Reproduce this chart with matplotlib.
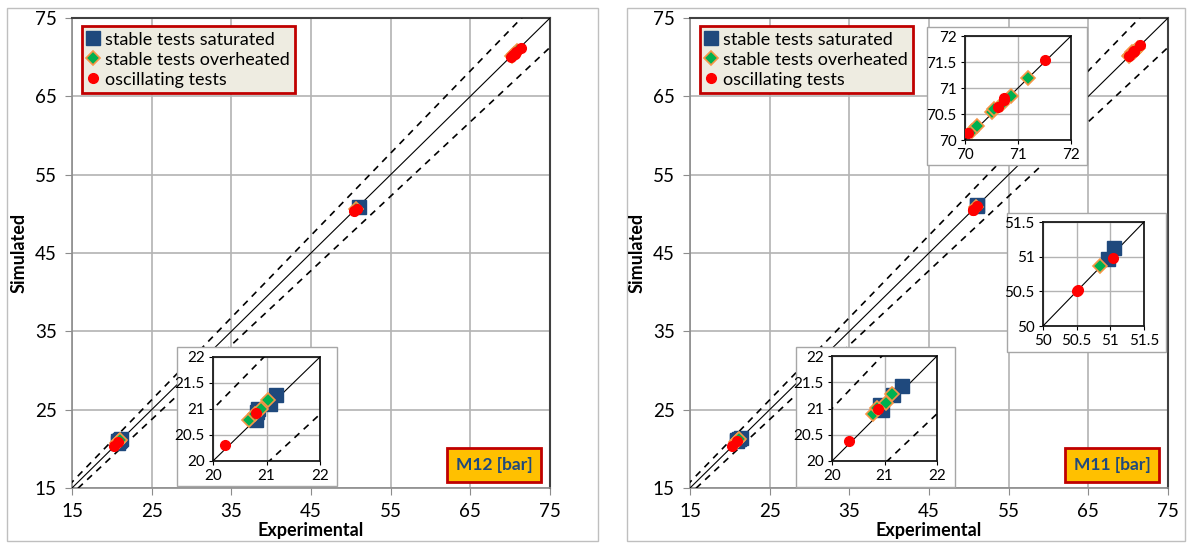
import matplotlib
matplotlib.use("Agg")
import matplotlib.pyplot as plt
from matplotlib.patches import Rectangle
from matplotlib.ticker import MultipleLocator, FormatStrFormatter
import numpy as np

plt.rcParams['font.family'] = ['Lato', 'DejaVu Sans']

W, H = 1187, 547

# ---- data ----
# M12 panel
m12_sat_x = [20.80, 20.83, 20.84, 21.06, 21.18, 50.98]
m12_sat_y = [20.78, 20.94, 21.00, 21.10, 21.26, 50.90]
m12_ovh_x = [20.68, 20.78, 20.89, 21.03, 50.70, 70.20, 70.50, 70.80]
m12_ovh_y = [20.78, 20.91, 21.00, 21.17, 50.60, 70.15, 70.45, 70.75]
m12_osc_x = [20.23, 20.81, 50.40, 50.80, 70.05, 70.30, 70.55, 70.75, 71.30]
m12_osc_y = [20.31, 20.93, 50.30, 50.60, 70.00, 70.25, 70.45, 70.70, 71.20]

# M11 panel
m11_sat_x = [20.91, 20.95, 21.17, 21.34, 50.97, 51.05]
m11_sat_y = [21.07, 20.97, 21.26, 21.42, 50.97, 51.13]
m11_ovh_x = [20.79, 20.86, 21.03, 21.15, 50.85,
             70.13, 70.22, 70.50, 70.54, 70.69, 70.86, 71.19]
m11_ovh_y = [20.89, 21.01, 21.10, 21.28, 50.87,
             70.17, 70.26, 70.54, 70.60, 70.70, 70.85, 71.19]
m11_osc_x = [20.33, 20.88, 50.50, 50.52, 51.04,
             70.05, 70.62, 70.73, 70.74, 71.50]
m11_osc_y = [20.38, 21.00, 50.51, 50.52, 50.98,
             70.13, 70.64, 70.80, 70.77, 71.54]

main_ticks = [15, 25, 35, 45, 55, 65, 75]
band = 0.05   # +/- 5 % lines

C_SAT = '#1F497D'
C_OVH = '#00B050'
C_OVH_E = '#F79646'
C_OSC = '#FF0000'


def fax(x0, y0, x1, y1):
    # pixel box -> figure fraction
    return [x0 / W, 1 - y1 / H, (x1 - x0) / W, (y1 - y0) / H]


def draw_points(ax, sx, sy, ox, oy, rx, ry):
    ax.plot(sx, sy, 's', color=C_SAT, ms=9.5, mec=C_SAT, ls='none',
            label='stable tests saturated', zorder=5)
    ax.plot(ox, oy, 'D', color=C_OVH, ms=7.5, mec=C_OVH_E, mew=1.2,
            ls='none', label='stable tests overheated', zorder=6)
    ax.plot(rx, ry, 'o', color=C_OSC, ms=7, mec=C_OSC, ls='none',
            label='oscillating tests', zorder=7)


def ref_lines(ax, lo, hi):
    xx = np.array([lo - 10, hi + 10])
    ax.plot(xx, xx, color='black', lw=0.8, zorder=3)
    ax.plot(xx, xx * (1 + band), color='black', lw=1.2, ls=(0, (4, 3.5)), zorder=3)
    ax.plot(xx, xx * (1 - band), color='black', lw=1.2, ls=(0, (4, 3.5)), zorder=3)


def main_panel(fig, px, data, tag):
    # outer chart frame
    fig.add_artist(Rectangle((px[0] / W, 1 - px[3] / H),
                             (px[2] - px[0]) / W, (px[3] - px[1]) / H,
                             transform=fig.transFigure, fill=False,
                             edgecolor='#BFBFBF', lw=1.0, zorder=-1))
    ax = fig.add_axes(fax(px[4], 18, px[4] + 478, 488))
    ref_lines(ax, 15, 75)
    draw_points(ax, *data)
    ax.set_xlim(15, 75)
    ax.set_ylim(15, 75)
    ax.set_xticks(main_ticks)
    ax.set_yticks(main_ticks)
    ax.grid(True, color='#B3B3B3', lw=1.2)
    ax.set_axisbelow(True)
    for s in ['top', 'right']:
        ax.spines[s].set_color('#404040')
        ax.spines[s].set_linewidth(1.5)
    for s in ['left', 'bottom']:
        ax.spines[s].set_color('#8C8C8C')
        ax.spines[s].set_linewidth(1.2)
    ax.tick_params(direction='out', length=5, color='#8C8C8C', labelsize=13.5,
                   pad=6)
    ax.set_xlabel('Experimental', fontsize=13, fontweight='bold', labelpad=1)
    ax.set_ylabel('Simulated', fontsize=13, fontweight='bold', labelpad=5)
    leg = ax.legend(loc='upper left', bbox_to_anchor=(0.013, 0.99), fontsize=13,
                    frameon=True, fancybox=False, handlelength=0.6,
                    handletextpad=0.4, borderpad=0.3, labelspacing=0.22,
                    borderaxespad=0.2)
    leg.get_frame().set_facecolor('#EEECE1')
    leg.get_frame().set_edgecolor('#C00000')
    leg.get_frame().set_linewidth(2)
    leg.get_frame().set_alpha(1)
    leg.set_zorder(10)
    ax.text(0.883, 0.049, tag, transform=ax.transAxes, fontsize=12.5,
            fontweight='bold', color=C_SAT, ha='center', va='center', zorder=10,
            bbox=dict(boxstyle='square,pad=0.5', facecolor='#FFC000',
                      edgecolor='#C00000', lw=2))
    return ax


def inset(fig, frame, plot, lim, xstep, ystep, data):
    fig.add_artist(Rectangle((frame[0] / W, 1 - frame[3] / H),
                             (frame[2] - frame[0]) / W, (frame[3] - frame[1]) / H,
                             transform=fig.transFigure, facecolor='white',
                             edgecolor='#A6A6A6', lw=1.0, zorder=1))
    ax = fig.add_axes(fax(*plot), zorder=2)
    ref_lines(ax, lim[0], lim[1])
    draw_points(ax, *data)
    ax.set_xlim(*lim)
    ax.set_ylim(*lim)
    ax.xaxis.set_major_locator(MultipleLocator(xstep))
    ax.yaxis.set_major_locator(MultipleLocator(ystep))
    ax.xaxis.set_major_formatter(FormatStrFormatter('%g'))
    ax.yaxis.set_major_formatter(FormatStrFormatter('%g'))
    ax.grid(True, color='#B3B3B3', lw=1.0)
    ax.set_axisbelow(True)
    for s in ax.spines.values():
        s.set_color('#1A1A1A')
        s.set_linewidth(1.3)
    ax.tick_params(direction='out', length=3, labelsize=11, pad=3)
    return ax


fig = plt.figure(figsize=(W / 100, H / 100), dpi=100)

m12 = (m12_sat_x, m12_sat_y, m12_ovh_x, m12_ovh_y, m12_osc_x, m12_osc_y)
m11 = (m11_sat_x, m11_sat_y, m11_ovh_x, m11_ovh_y, m11_osc_x, m11_osc_y)

main_panel(fig, (7, 8, 598, 541, 72), m12, 'M12 [bar]')
main_panel(fig, (627, 8, 1185, 541, 690), m11, 'M11 [bar]')

inset(fig, (177, 347, 337, 486), (213, 357, 320, 461), (20, 22), 1, 0.5, m12)
inset(fig, (796, 347, 955, 487), (832, 356, 937, 461), (20, 22), 1, 0.5, m11)
inset(fig, (927, 27, 1087, 165), (965, 36, 1071, 140), (70, 72), 1, 0.5, m11)
inset(fig, (1007, 213, 1166, 352), (1043, 222, 1144, 326), (50, 51.5), 0.5, 0.5, m11)

fig.savefig('out.png', dpi=100, facecolor='white')
